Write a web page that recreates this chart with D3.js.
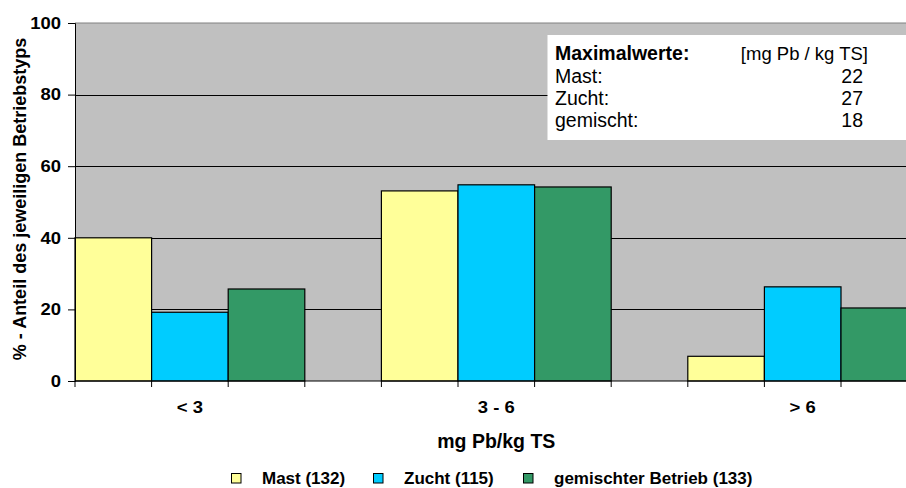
<!DOCTYPE html>
<html>
<head>
<meta charset="utf-8">
<script src="https://cdn.jsdelivr.net/npm/d3@7"></script>
<style>
  body { margin: 0; background: #fff; }
  svg { display: block; font-family: "Liberation Sans", Arial, sans-serif; }
</style>
</head>
<body>
<svg id="chart"></svg>
<script>
const categories = ["< 3", "3 - 6", "> 6"];
const seriesNames = ["Mast (132)", "Zucht (115)", "gemischter Betrieb (133)"];
const mast = [40, 53.1, 6.9];
const zucht = [19.2, 54.8, 26.3];
const gemischt = [25.7, 54.2, 20.4];
const yTicks = [0, 20, 40, 60, 80, 100];
const maxLabels = ["Mast:", "Zucht:", "gemischt:"];
const maxValues = ["22", "27", "18"];
const colors = ["#FFFF99", "#00CCFF", "#339966"];

const chartWidth = 906, chartHeight = 488;
const plotLeft = 75, plotTop = 23, plotBottom = 381;
const stretch = 1.12;

const svg = d3.select('svg#chart')
    .attr('width', chartWidth)
    .attr('height', chartHeight);

const series = [mast, zucht, gemischt];

// categories take 3 bar slots + 1 empty slot, bars start right at the axis
const x0 = d3.scaleBand()
    .domain(categories)
    .range([plotLeft, plotLeft + 2.75 * 306.4])
    .paddingInner(0.25)
    .paddingOuter(0)
    .align(0);

const x1 = d3.scaleBand()
    .domain(d3.range(series.length))
    .range([0, x0.bandwidth()]);

const y = d3.scaleLinear().domain([0, 100]).range([plotBottom, plotTop]);

const plotRight = chartWidth + 20;

// plot area
svg.append('rect')
    .attr('x', plotLeft).attr('y', plotTop)
    .attr('width', plotRight - plotLeft).attr('height', plotBottom - plotTop)
    .attr('fill', '#C0C0C0');

svg.append('line')
    .attr('x1', plotLeft).attr('x2', plotRight)
    .attr('y1', y(100)).attr('y2', y(100))
    .attr('stroke', '#808080');

// gridlines
svg.append('g')
    .selectAll('line')
    .data(yTicks.filter(d => d > 0 && d < 100))
    .join('line')
    .attr('x1', plotLeft).attr('x2', plotRight)
    .attr('y1', d => Math.round(y(d)) + 0.5).attr('y2', d => Math.round(y(d)) + 0.5)
    .attr('stroke', '#000');

// bars
const groups = svg.append('g')
    .selectAll('g')
    .data(categories)
    .join('g')
    .attr('transform', c => `translate(${x0(c)},0)`);

groups.selectAll('rect')
    .data((c, i) => series.map((s, k) => ({k, v: s[i]})))
    .join('rect')
    .attr('x', d => x1(d.k))
    .attr('y', d => y(d.v))
    .attr('width', x1.bandwidth())
    .attr('height', d => y(0) - y(d.v))
    .attr('fill', d => colors[d.k])
    .attr('stroke', '#000')
    .attr('stroke-width', 1.2);

// y axis
const yAxis = svg.append('g')
    .attr('transform', `translate(${plotLeft},0)`)
    .call(d3.axisLeft(y).tickValues(yTicks).tickSize(7).tickPadding(0));
yAxis.select('.domain').attr('stroke', '#000');
yAxis.selectAll('text')
    .attr('x', -14 / stretch)
    .attr('transform', `scale(${stretch},1)`)
    .style('font-size', '16.5px')
    .style('font-weight', 'bold')
    .attr('fill', '#000');

// x axis: ticks at every bar boundary
const boundaries = [];
categories.forEach(c => {
    series.forEach((s, k) => boundaries.push(x0(c) + x1(k)));
    boundaries.push(x0(c) + x0.bandwidth());
});

svg.append('line')
    .attr('x1', plotLeft).attr('x2', plotRight)
    .attr('y1', plotBottom).attr('y2', plotBottom)
    .attr('stroke', '#000').attr('stroke-width', 1.2);

svg.append('g')
    .selectAll('line')
    .data(boundaries)
    .join('line')
    .attr('x1', d => d).attr('x2', d => d)
    .attr('y1', plotBottom).attr('y2', plotBottom + 6)
    .attr('stroke', '#000');

svg.append('g')
    .selectAll('text')
    .data(categories)
    .join('text')
    .attr('transform', c => `translate(${x0(c) + x0.bandwidth() / 2},413) scale(${stretch},1)`)
    .attr('text-anchor', 'middle')
    .style('font-size', '16.5px')
    .style('font-weight', 'bold')
    .text(c => c);

// axis titles
svg.append('text')
    .attr('x', (plotLeft + x0.range()[1]) / 2)
    .attr('y', 448)
    .attr('text-anchor', 'middle')
    .style('font-size', '19.5px')
    .style('font-weight', 'bold')
    .text('mg Pb/kg TS');

svg.append('text')
    .attr('transform', 'translate(26,199) rotate(-90)')
    .attr('text-anchor', 'middle')
    .style('font-size', '18px')
    .style('font-weight', 'bold')
    .text('% - Anteil des jeweiligen Betriebstyps');

// max values box
const box = svg.append('g');
box.append('rect')
    .attr('x', 547.5).attr('y', 35)
    .attr('width', plotRight - 547.5).attr('height', 105)
    .attr('fill', '#fff');
box.append('text')
    .attr('x', 555).attr('y', 60)
    .style('font-size', '19.5px')
    .style('font-weight', 'bold')
    .text('Maximalwerte:');
box.append('text')
    .attr('x', 868).attr('y', 60)
    .attr('text-anchor', 'end')
    .style('font-size', '18.5px')
    .text('[mg Pb / kg TS]');
box.selectAll('text.lbl')
    .data(maxLabels)
    .join('text')
    .attr('class', 'lbl')
    .attr('x', 555).attr('y', (d, i) => 82.5 + i * 22.3)
    .style('font-size', '19.5px')
    .text(d => d);
box.selectAll('text.val')
    .data(maxValues)
    .join('text')
    .attr('class', 'val')
    .attr('x', 863).attr('y', (d, i) => 82.5 + i * 22.3)
    .attr('text-anchor', 'end')
    .style('font-size', '19.5px')
    .text(d => d);

// legend
const legendX = [231, 373, 523];
const legend = svg.append('g')
    .selectAll('g')
    .data(seriesNames)
    .join('g')
    .attr('transform', (d, i) => `translate(${legendX[i]},473)`);
legend.append('rect')
    .attr('x', 0.5).attr('y', 0.5)
    .attr('width', 9.5).attr('height', 9.5)
    .attr('fill', (d, i) => colors[i])
    .attr('stroke', '#000');
legend.append('text')
    .attr('x', 31).attr('y', 11)
    .style('font-size', '17px')
    .style('font-weight', 'bold')
    .text(d => d);
</script>
</body>
</html>
